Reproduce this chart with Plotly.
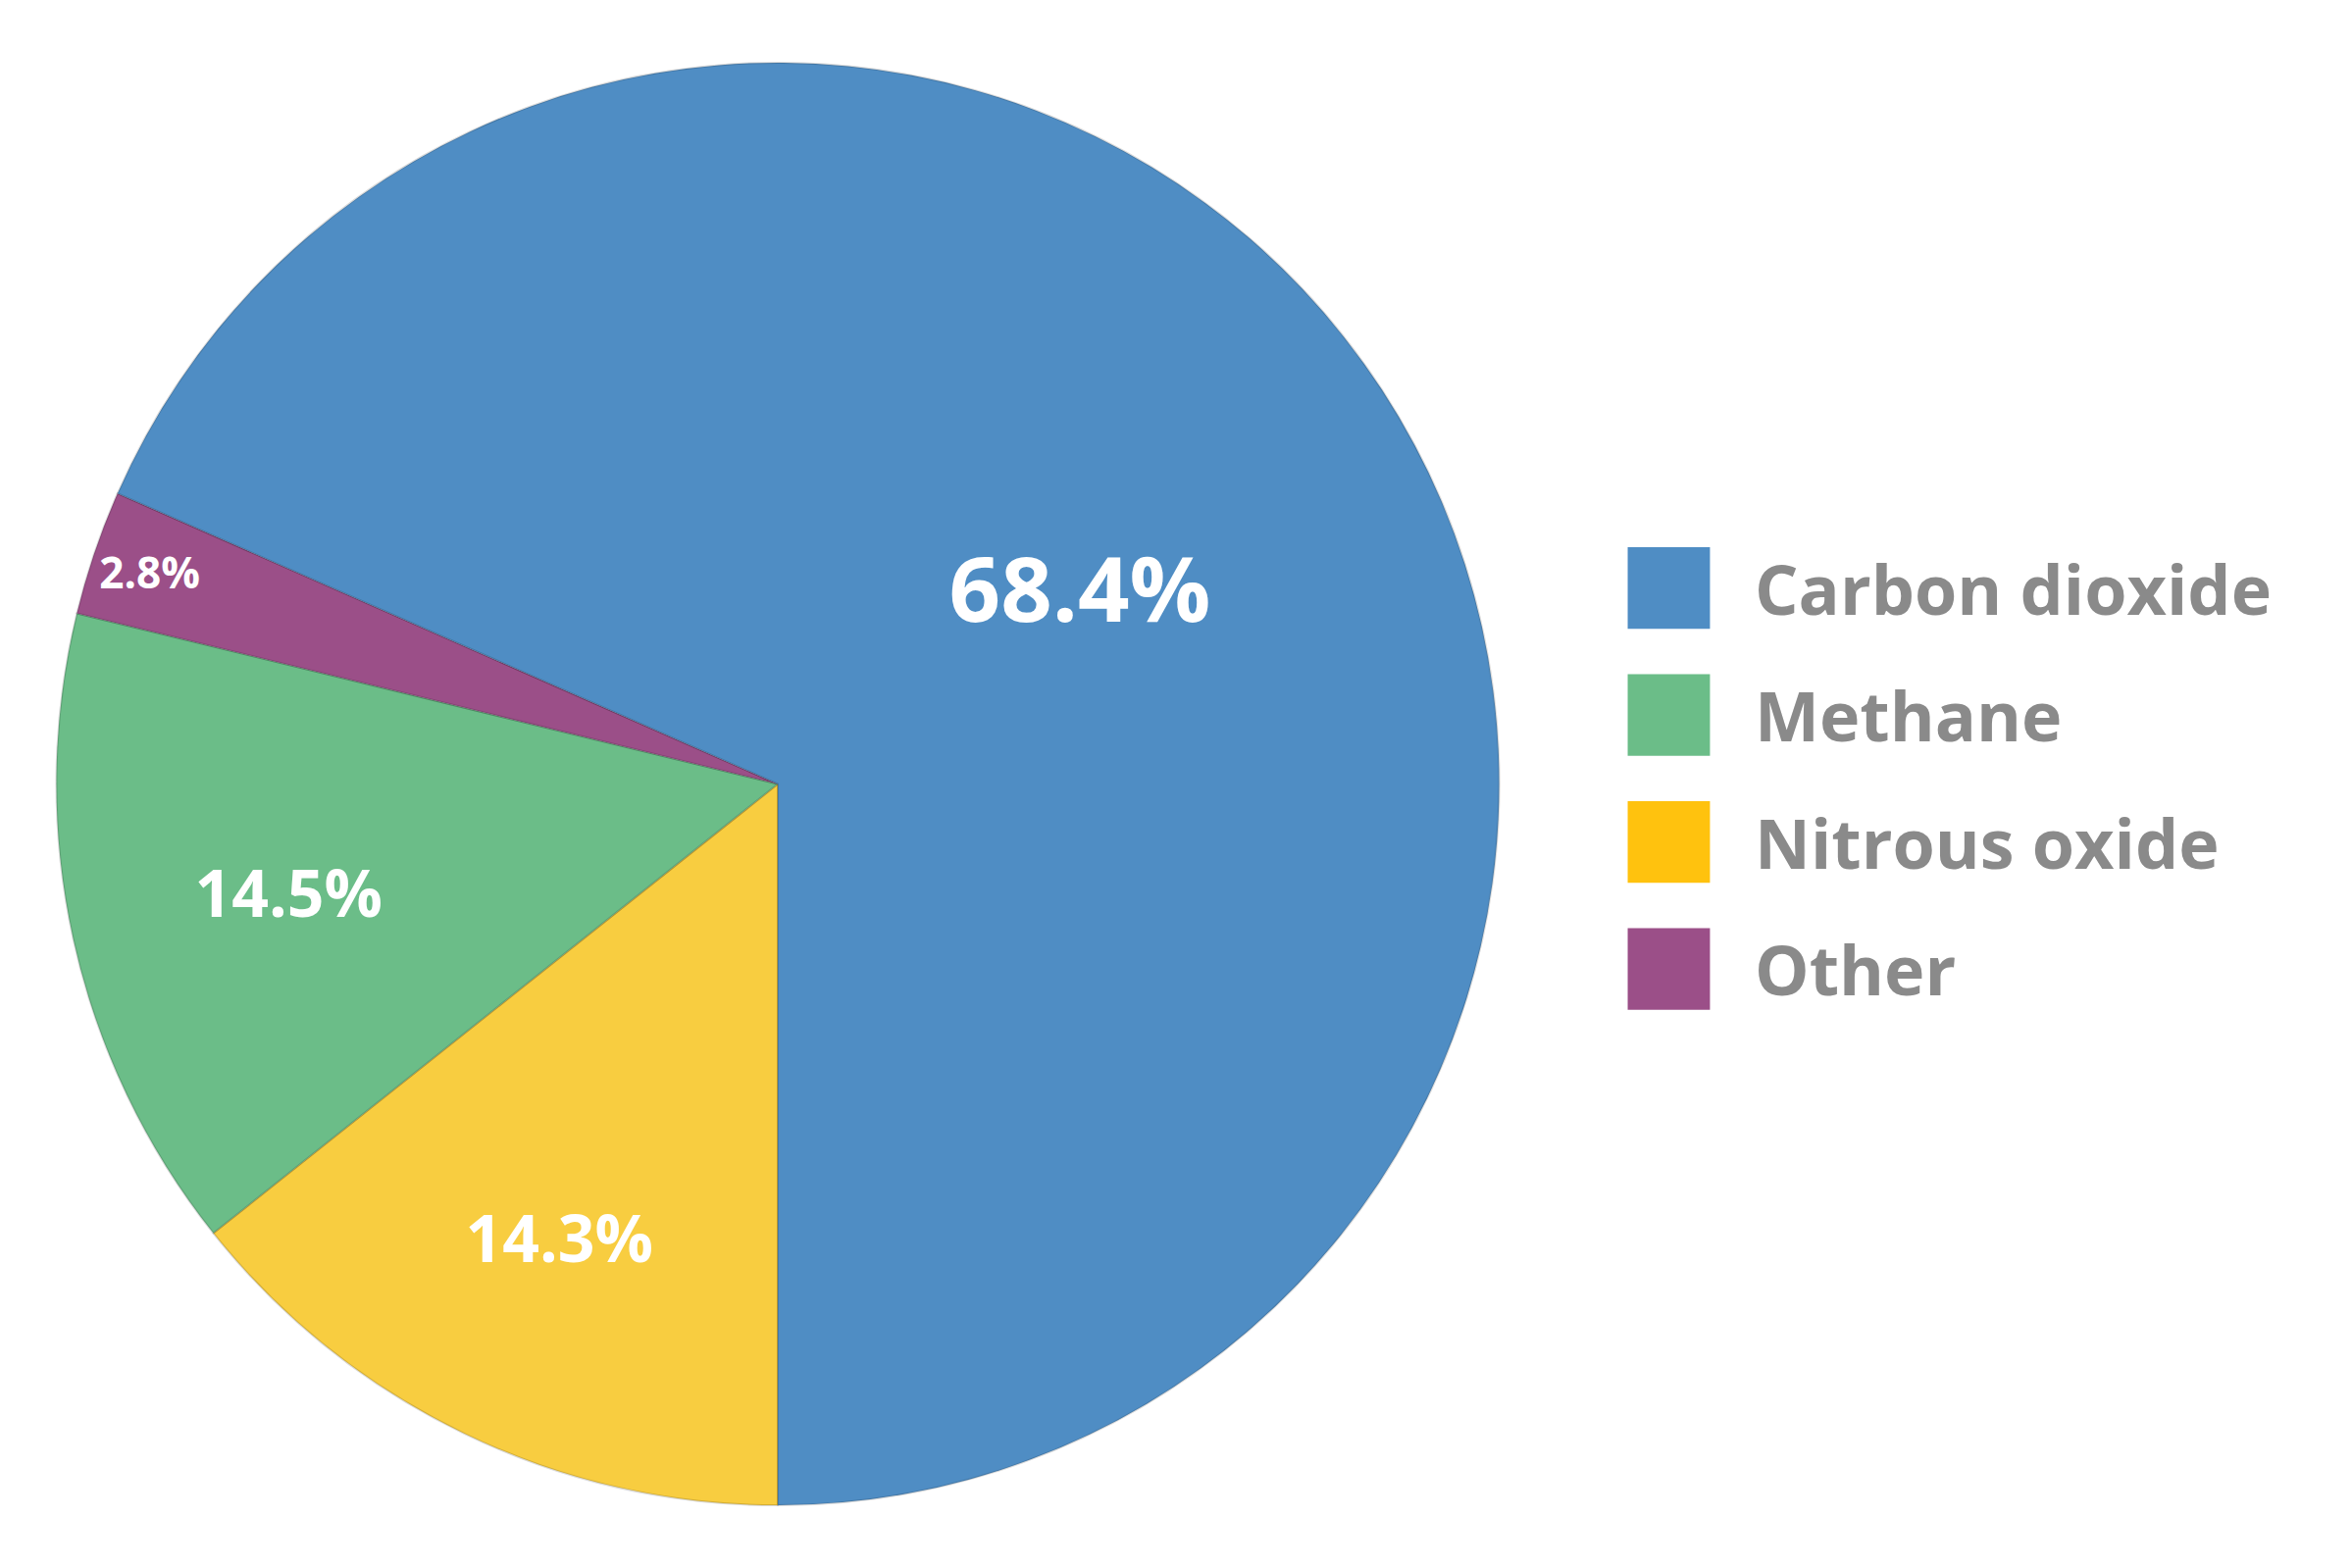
import plotly.graph_objects as go

# slices in drawing order (from 6 o'clock, toward the right)
slice_names = ["Nitrous oxide", "Methane", "Other", "Carbon dioxide"]
slice_values = [14.3, 14.5, 2.8, 68.4]
slice_colors = ["#f8cd40", "#6bbd88", "#9b4f88", "#4f8dc4"]
label_sizes = [66, 66, 62, 92]

# legend order as in the picture
legend_names = ["Carbon dioxide", "Methane", "Nitrous oxide", "Other"]
legend_colors = ["#4f8dc4", "#6bbd88", "#ffc20e", "#9b4f88"]

fig = go.Figure()

fig.add_trace(go.Pie(
    labels=slice_names,
    values=slice_values,
    sort=False,
    direction="clockwise",
    rotation=180,
    marker=dict(colors=slice_colors, line=dict(color="rgba(0,0,0,0.15)", width=2)),
    texttemplate="%{value}%",
    textposition="inside",
    insidetextorientation="horizontal",
    textfont=dict(family="Open Sans", color="white", size=label_sizes, weight="bold"),
    showlegend=False,
    hoverinfo="label+value",
    domain=dict(x=[0.01, 0.645], y=[0.045, 0.965]),
))

# hand-drawn legend: rounded-ish squares + text
y_top = 0.63
step = 0.081
for i, (name, col) in enumerate(zip(legend_names, legend_colors)):
    yc = y_top - i * step
    fig.add_shape(type="rect", xref="paper", yref="paper",
                  x0=0.689, x1=0.724, y0=yc - 0.026, y1=yc + 0.026,
                  fillcolor=col, line=dict(width=0))
    fig.add_annotation(x=0.742, y=yc, xref="paper", yref="paper",
                       xanchor="left", yanchor="middle", showarrow=False,
                       text=name,
                       font=dict(family="Open Sans", size=70, color="#8a8a8a", weight="bold"))

fig.update_layout(
    width=2397, height=1599,
    paper_bgcolor="white", plot_bgcolor="white",
    margin=dict(l=0, r=0, t=0, b=0),
)

fig.write_html("out.html")
